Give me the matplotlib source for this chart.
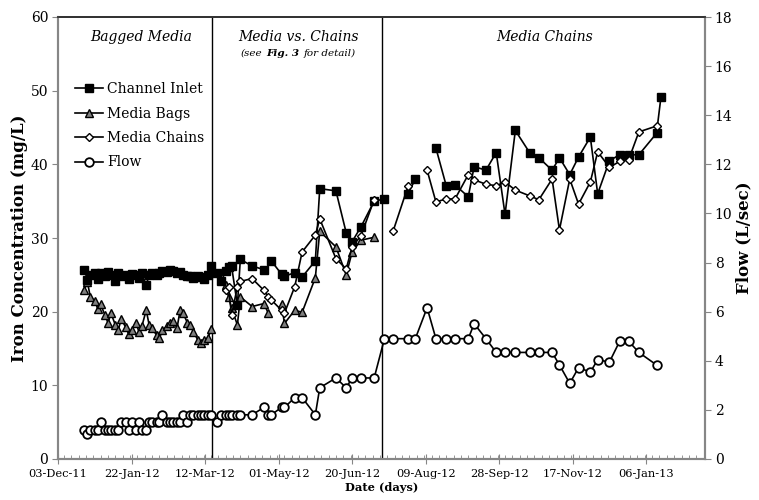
import numpy as np
import matplotlib
matplotlib.use("Agg")
import matplotlib.pyplot as plt
import matplotlib.dates as mdates
from matplotlib.ticker import FixedLocator, MultipleLocator
from matplotlib.offsetbox import TextArea, HPacker, AnnotationBbox
from datetime import datetime, timedelta

plt.rcParams['font.family'] = ['DejaVu Serif']

start_date = datetime(2011, 12, 3)

# day offsets from 03-Dec-11
days_early = [18, 20, 22, 25, 27, 29, 32, 34, 36, 39, 41, 43, 46, 48, 50, 53, 55, 57, 60, 62,
              64, 67, 69, 71, 74, 76, 78, 81, 83, 85, 88, 90, 92, 95, 97, 99, 102, 104]
inlet_early = [25.7, 24.3, 25.0, 25.3, 24.5, 25.2, 24.8, 25.4, 25.0, 24.2, 25.3, 24.8, 25.0, 24.5,
               25.1, 25.0, 24.6, 25.2, 23.6, 25.0, 25.2, 25.0, 25.3, 25.5, 25.4, 25.6, 25.5, 25.3,
               25.4, 25.0, 24.8, 24.9, 24.6, 24.8, 24.7, 24.5, 25.0, 26.2]
bags_early = [23.0, 24.0, 22.0, 21.5, 20.4, 21.0, 19.5, 18.5, 19.8, 18.2, 17.5, 19.0, 17.9, 17.0,
              17.5, 18.5, 17.3, 18.0, 20.2, 18.2, 17.8, 16.8, 16.4, 17.5, 18.0, 18.5, 18.7, 17.8,
              20.2, 19.8, 18.5, 18.2, 17.3, 16.2, 15.8, 16.2, 16.4, 17.6]
chains_early = [None] * 38
flow_early = [1.2, 1.0, 1.2, 1.2, 1.2, 1.5, 1.2, 1.2, 1.2, 1.2, 1.2, 1.5, 1.5, 1.2, 1.5, 1.2, 1.5,
              1.2, 1.2, 1.5, 1.5, 1.5, 1.5, 1.8, 1.5, 1.5, 1.5, 1.5, 1.5, 1.8, 1.5, 1.8, 1.8, 1.8,
              1.8, 1.8, 1.8, 1.8]

days_mid = [108, 111, 114, 116, 118, 122, 124, 132, 140, 143, 145, 152, 154, 161, 166, 175, 178,
            189, 196, 200, 206, 215]
inlet_mid = [25.2, 24.1, 25.5, 26.1, 26.2, 20.9, 27.1, 26.2, 25.7, None, 26.9, 25.1, 24.8, 25.3,
             24.7, 26.9, 36.7, 36.4, 30.7, 29.5, 31.5, 35.0]
bags_mid = [None, None, 23.6, 22.0, 20.5, 18.2, 22.0, 20.7, 21.1, 19.8, None, 21.1, 18.4, 20.2,
            19.9, 24.6, 30.9, 28.8, 25.0, 28.1, 29.7, 30.1]
chains_mid = [None, None, 23.0, 23.4, 19.5, 23.4, 24.1, 24.5, 22.9, 22.0, 21.6, 20.2, 19.8, 23.4,
              28.1, 30.4, 32.6, 27.2, 25.8, 28.8, 30.3, 35.2]
flow_mid = [1.5, 1.8, 1.8, 1.8, 1.8, 1.8, 1.8, 1.8, 2.1, 1.8, 1.8, 2.1, 2.1, 2.5, 2.5, 1.8, 2.9,
            3.3, 2.9, 3.3, 3.3, 3.3]

days_late = [222, 228, 238, 243, 251, 257, 264, 270, 279, 283, 291, 298, 304, 311, 321, 327, 336,
             341, 348, 354, 362, 367, 375, 382, 388, 395, 407, 410]
inlet_late = [35.3, None, 36.0, 38.0, None, 42.2, 37.1, 37.2, 35.6, 39.7, 39.2, 41.6, 33.2, 44.6,
              41.5, 40.9, 39.2, 40.9, 38.6, 41.0, 43.7, 36.0, 40.5, 41.3, 41.3, 41.3, 44.2, 49.1]
bags_late = [None] * 28
chains_late = [None, 31.0, 37.0, None, 39.2, 34.9, 35.3, 35.3, 38.6, 37.9, 37.3, 37.1, 37.6, 36.5,
               35.7, 35.2, 38.0, 31.1, 38.0, 34.6, 37.6, 41.7, 39.6, 40.4, 40.6, 44.4, 45.2, None]
flow_late = [4.9, 4.9, 4.9, 4.9, 6.16, 4.9, 4.9, 4.9, 4.9, 5.51, 4.9, 4.34, 4.34, 4.34, 4.34, 4.34,
             4.34, 3.83, 3.08, 3.72, 3.54, 4.04, 3.95, 4.8, 4.8, 4.34, 3.83, None]

phase_breaks = [105, 220]          # day offsets of the vertical divider lines
tick_days = [0, 50, 100, 150, 200, 250, 300, 350, 400]
axis_end_day = 440

days = days_early + days_mid + days_late
dates = [start_date + timedelta(days=d) for d in days]
inlet = np.array(inlet_early + inlet_mid + inlet_late, dtype=float)
bags = np.array(bags_early + bags_mid + bags_late, dtype=float)
chains = np.array(chains_early + chains_mid + chains_late, dtype=float)
flow = np.array(flow_early + flow_mid + flow_late, dtype=float)

fig = plt.figure(figsize=(7.59, 5.0), dpi=100)
ax = fig.add_axes([0.0764, 0.082, 0.8525, 0.884])
ax2 = ax.twinx()

l1, = ax.plot(dates, inlet, '-', color='black', lw=1.2, marker='s', ms=5.2,
              mfc='black', mec='black', label='Channel Inlet', zorder=4)
l2, = ax.plot(dates, bags, '-', color='black', lw=1.2, marker='^', ms=6.2,
              mfc='#7f7f7f', mec='black', mew=1.0, label='Media Bags', zorder=3)
l3, = ax.plot(dates, chains, '-', color='black', lw=1.2, marker='D', ms=4.3,
              mfc='white', mec='black', mew=1.0, label='Media Chains', zorder=5)
l4, = ax2.plot(dates, flow, '-', color='black', lw=1.2, marker='o', ms=6.2,
               mfc='white', mec='black', mew=1.3, label='Flow')

for b in phase_breaks:
    bd = mdates.date2num(start_date + timedelta(days=b))
    ax.plot([bd, bd], [0, 60], color='black', lw=1.0, zorder=2)

x0 = mdates.date2num(start_date)
ax.set_xlim(x0, x0 + axis_end_day)
ax.set_ylim(0, 60)
ax2.set_ylim(0, 18)
ax.yaxis.set_major_locator(MultipleLocator(10))
ax2.yaxis.set_major_locator(MultipleLocator(2))

ticks = [x0 + d for d in tick_days]
ax.xaxis.set_major_locator(FixedLocator(ticks))
ax.xaxis.set_minor_locator(MultipleLocator(5))
ax.xaxis.set_major_formatter(mdates.DateFormatter('%d-%b-%y'))

grey = '#868686'
for a in (ax, ax2):
    for s in ('left', 'right', 'bottom'):
        a.spines[s].set_color(grey)
        a.spines[s].set_linewidth(1.5)
    a.spines['top'].set_color('#333333')
    a.spines['top'].set_linewidth(1.3)

ax.tick_params(axis='x', which='major', direction='inout', length=7, color=grey,
               labelsize=8.2, pad=4)
ax.tick_params(axis='x', which='minor', direction='in', length=3, color=grey)
ax.tick_params(axis='y', direction='out', length=4, color=grey, labelsize=10, pad=3)
ax2.tick_params(axis='y', direction='out', length=4, color=grey, labelsize=10, pad=3)

ax.set_ylabel('Iron Concentration (mg/L)', fontsize=12, fontweight='bold')
ax2.set_ylabel('Flow (L/sec)', fontsize=12, fontweight='bold')
ax.yaxis.set_label_coords(-0.047, 0.5)
ax2.yaxis.set_label_coords(1.047, 0.5)
ax.set_xlabel('Date (days)', fontsize=8.2, fontweight='bold', labelpad=2)

ax.text(0.128, 0.955, 'Bagged Media', transform=ax.transAxes, ha='center', va='center',
        fontsize=10, style='italic')
ax.text(0.371, 0.955, 'Media vs. Chains', transform=ax.transAxes, ha='center', va='center',
        fontsize=10, style='italic')
ax.text(0.752, 0.955, 'Media Chains', transform=ax.transAxes, ha='center', va='center',
        fontsize=10, style='italic')

parts = [TextArea('(see', textprops=dict(fontsize=7.5, style='italic')),
         TextArea('Fig. 3', textprops=dict(fontsize=7.5, style='italic', fontweight='bold')),
         TextArea('for detail)', textprops=dict(fontsize=7.5, style='italic'))]
pack = HPacker(children=parts, align='baseline', pad=0, sep=3)
ab = AnnotationBbox(pack, (0.371, 0.918), xycoords='axes fraction', frameon=False,
                    box_alignment=(0.5, 0.5))
ax.add_artist(ab)

leg = ax.legend(handles=[l1, l2, l3, l4], loc='upper left', bbox_to_anchor=(0.018, 0.865),
                frameon=False, fontsize=10, handlelength=2.0, handletextpad=0.3,
                labelspacing=0.75, borderaxespad=0)

fig.savefig('out.png', dpi=100)
